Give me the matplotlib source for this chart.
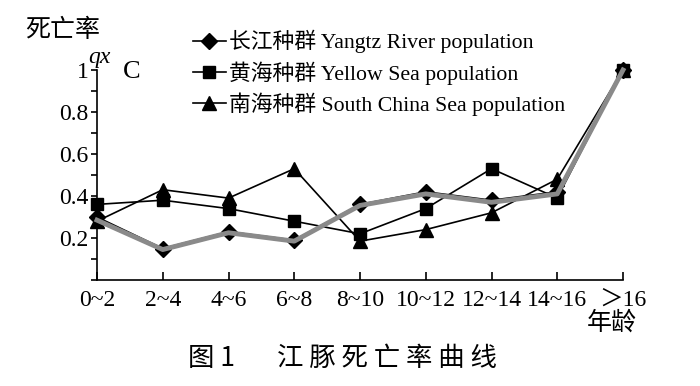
import matplotlib
matplotlib.use('Agg')
import matplotlib.pyplot as plt
from matplotlib.ticker import MultipleLocator, FixedLocator

# 数据
ages = ['0~2', '2~4', '4~6', '6~8', '8~10', '10~12', '12~14', '14~16', '＞16']
yangtze = [0.30, 0.15, 0.23, 0.19, 0.36, 0.42, 0.38, 0.42, 1.0]
yellow = [0.36, 0.38, 0.34, 0.28, 0.22, 0.34, 0.53, 0.39, 1.0]
south = [0.28, 0.43, 0.39, 0.53, 0.185, 0.24, 0.32, 0.48, 1.0]
gray_curve = [0.285, 0.145, 0.225, 0.185, 0.355, 0.41, 0.37, 0.41, 1.0]

names = ['长江种群 Yangtz River population',
         '黄海种群 Yellow Sea population',
         '南海种群 South China Sea population']

fam = ['Liberation Serif', 'Noto Sans CJK SC']
cjk = ['Noto Sans CJK SC', 'DejaVu Sans']
plt.rcParams['font.family'] = fam

fig = plt.figure(figsize=(7, 3.86), dpi=100)
ax = fig.add_axes([97/700, 1-280/386, (623-97)/700, (280-70)/386])

x = list(range(len(ages)))
ax.plot(x, yangtze, color='black', lw=1.2, marker='D', ms=8, clip_on=False, label=names[0], zorder=3)
ax.plot(x, yellow, color='black', lw=1.2, marker='s', ms=9, clip_on=False, label=names[1], zorder=3)
ax.plot(x, south, color='black', lw=1.2, marker='^', ms=10, clip_on=False, label=names[2], zorder=3)
ax.plot(x, gray_curve, color='#8a8a8a', lw=3.5, clip_on=False, zorder=4)

ax.set_xlim(0, 8)
ax.set_ylim(0, 1)
ax.spines['top'].set_visible(False)
ax.spines['right'].set_visible(False)
ax.spines['left'].set_linewidth(1.2)
ax.spines['bottom'].set_linewidth(1.2)

ax.set_xticks(x)
ax.set_xticklabels(ages, fontsize=17)
ax.tick_params(axis='x', direction='in', length=6, width=1.2, pad=7)
ax.yaxis.set_major_locator(FixedLocator([0.2, 0.4, 0.6, 0.8, 1.0]))
ax.set_yticklabels(['0.2', '0.4', '0.6', '0.8', '1'], fontsize=17)
ax.yaxis.set_minor_locator(MultipleLocator(0.1))
ax.tick_params(axis='y', which='both', direction='out', length=4, width=1.2, pad=2)

fig.legend(loc='upper left', bbox_to_anchor=(193/700, 1-30/386), frameon=False,
           fontsize=15.7, handlelength=1.5, handletextpad=0.15, labelspacing=0.36,
           borderpad=0, borderaxespad=0)

fig.text(25/700, 1-30/386, '死亡率', family=cjk, fontsize=18, weight='light', va='center')
fig.text(88/700, 1-57/386, 'qx', style='italic', fontsize=17, va='center')
fig.text(123/700, 1-72/386, 'C', fontsize=19, va='center')
fig.text(612/700, 1-323/386, '年龄', family=cjk, fontsize=18, weight='light', va='center', ha='center')
fig.text(188/700, 1-358/386, '图 1', family=cjk, fontsize=19, weight='light', va='center', ha='left')
fig.text(277/700, 1-358/386, '江 豚 死 亡 率 曲 线', family=cjk, fontsize=19, weight='light',
         va='center', ha='left')

fig.savefig('out.png', dpi=100)
